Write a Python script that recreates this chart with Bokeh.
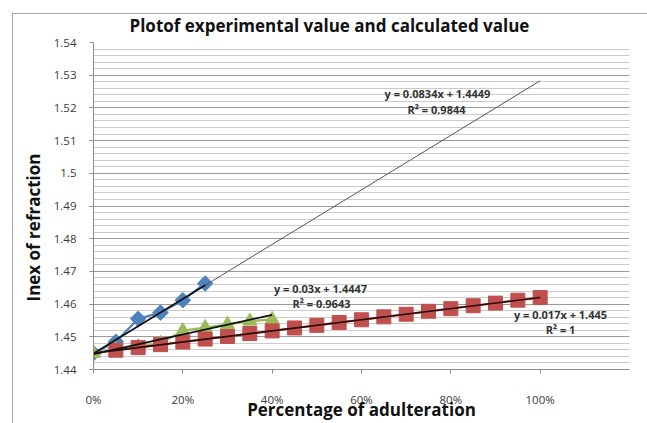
from bokeh.plotting import figure
from bokeh.models import Range1d, SingleIntervalTicker, CustomJSTickFormatter, Label, Title
from bokeh.embed import file_html
from bokeh.resources import INLINE

# ---- data ----
pct_blue = [0.00, 0.05, 0.10, 0.15, 0.20, 0.25]
ri_blue = [1.4450, 1.4485, 1.4555, 1.4574, 1.4612, 1.4663]

pct_green = [0.00, 0.05, 0.10, 0.15, 0.20, 0.25, 0.30, 0.35, 0.40]
ri_green = [1.4450, 1.4462, 1.4470, 1.4480, 1.4519, 1.4528, 1.4538, 1.4548, 1.4553]

pct_red = [0.05, 0.10, 0.15, 0.20, 0.25, 0.30, 0.35, 0.40, 0.45, 0.50,
           0.55, 0.60, 0.65, 0.70, 0.75, 0.80, 0.85, 0.90, 0.95, 1.00]
ri_red = [1.4459, 1.4467, 1.4476, 1.4484, 1.4493, 1.4501, 1.4510, 1.4518, 1.4527, 1.4535,
          1.4544, 1.4552, 1.4561, 1.4569, 1.4578, 1.4586, 1.4595, 1.4603, 1.4612, 1.4620]

# trendline equations (slope, intercept) and R^2 as printed on the chart
fit_blue = (0.0834, 1.4449)
fit_green = (0.03, 1.4447)
fit_red = (0.017, 1.445)
r2_blue, r2_green, r2_red = "0.9844", "0.9643", "1"
span_blue_fc = [0.0, 1.0]     # forecast trendline extent
span_blue = [0.0, 0.25]
span_green = [0.0, 0.40]
span_red = [0.0, 1.00]

x_ticks_step = 0.2
y_ticks_step = 0.01

title_text = "Plotof experimental value  and calculated value"
x_title = "Percentage of adulteration"
y_title = "Inex of refraction"

FONT = "Open Sans"

def fit_y(fit, xs):
    return [fit[0] * x + fit[1] for x in xs]

p = figure(width=647, height=423, output_backend="svg", toolbar_location=None,
           x_range=Range1d(0, 1.2), y_range=Range1d(1.44, 1.54))
p.min_border_left = 93
p.min_border_right = 18
p.min_border_top = 42
p.min_border_bottom = 44
p.outline_line_color = None
p.background_fill_color = "white"
p.border_fill_alpha = 0
p.styles = {"background": "linear-gradient(#a6a6a6,#a6a6a6) 12px 13px / 1px 100% no-repeat, "
                          "linear-gradient(#a6a6a6,#a6a6a6) 12px 13px / 100% 1px no-repeat, #ffffff"}

# title
p.add_layout(Title(text=title_text, align="left", offset=36, text_font=FONT,
                   text_font_size="17px", text_font_style="bold", text_color="#111111",
                   standoff=12), "above")
# y axis title (vertical, in the left panel)
p.add_layout(Title(text=y_title, align="left", offset=68, text_font=FONT,
                   text_font_size="17px", text_font_style="bold", text_color="#111111",
                   standoff=11), "left")

# axes
p.xaxis.ticker = SingleIntervalTicker(interval=x_ticks_step, num_minor_ticks=0)
p.yaxis.ticker = SingleIntervalTicker(interval=y_ticks_step, num_minor_ticks=5)
p.xaxis.formatter = CustomJSTickFormatter(code="return Math.round(tick*100) + '%';")
p.yaxis.formatter = CustomJSTickFormatter(code="return parseFloat(tick.toFixed(2)).toString();")
for ax in (p.xaxis, p.yaxis):
    ax.axis_line_color = "#8c8c8c"
    ax.major_tick_line_color = "#8c8c8c"
    ax.minor_tick_line_color = None
    ax.major_tick_in = 0
    ax.major_tick_out = 4
    ax.major_label_text_font = FONT
    ax.major_label_text_font_size = "11.5px"
    ax.major_label_text_color = "#3a3a3a"
p.xaxis.major_label_standoff = 18
p.yaxis.major_label_standoff = 13
p.xaxis.axis_label = x_title
p.xaxis.axis_label_text_font = FONT
p.xaxis.axis_label_text_font_size = "17px"
p.xaxis.axis_label_text_font_style = "bold"
p.xaxis.axis_label_text_color = "#111111"
p.xaxis.axis_label_standoff = -12

p.xgrid.grid_line_color = None
p.ygrid.grid_line_color = "#9a9a9a"
p.ygrid.grid_line_width = 1
p.ygrid.minor_grid_line_color = "#cbcbcb"
p.ygrid.minor_grid_line_width = 1

# series
p.line(pct_blue, ri_blue, line_color="#4F81BD", line_width=2.2)
p.scatter(pct_blue, ri_blue, marker="square", angle=0.7854, size=11,
          fill_color="#4F81BD", line_color="#4F81BD")
p.line(pct_green, ri_green, line_color="#9BBB59", line_width=2.2)
p.scatter(pct_green, ri_green, marker="triangle", size=14, fill_color="#9BBB59", line_color="#9BBB59")
p.line(pct_red, ri_red, line_color="#C0504D", line_width=2.2)
p.scatter(pct_red, ri_red, marker="square", size=14, fill_color="#C0504D", line_color="#C0504D")

# trendlines
p.line(span_blue_fc, fit_y(fit_blue, span_blue_fc), line_color="#555555", line_width=1)
p.line(span_blue, fit_y(fit_blue, span_blue), line_color="#111111", line_width=1.6)
p.line(span_green, fit_y(fit_green, span_green), line_color="#111111", line_width=1.6)
p.line(span_red, fit_y(fit_red, span_red), line_color="#2a0a0a", line_width=1.6)

def lab(x, y, text):
    p.add_layout(Label(x=x, y=y, text=text, text_font=FONT, text_font_size="11px",
                       text_font_style="bold", text_color="#333333", text_align="center",
                       text_baseline="middle"))

def eq(fit):
    return f"y = {fit[0]}x + {fit[1]}"

lab(0.7701, 1.5243, eq(fit_blue))
lab(0.7679, 1.5194, f"R\u00b2 = {r2_blue}")
lab(0.5082, 1.4647, eq(fit_green))
lab(0.5104, 1.4603, f"R\u00b2 = {r2_green}")
lab(1.0455, 1.4567, eq(fit_red))
lab(1.0455, 1.4523, f"R\u00b2 = {r2_red}")

open("out.html", "w").write(file_html(p, INLINE))
